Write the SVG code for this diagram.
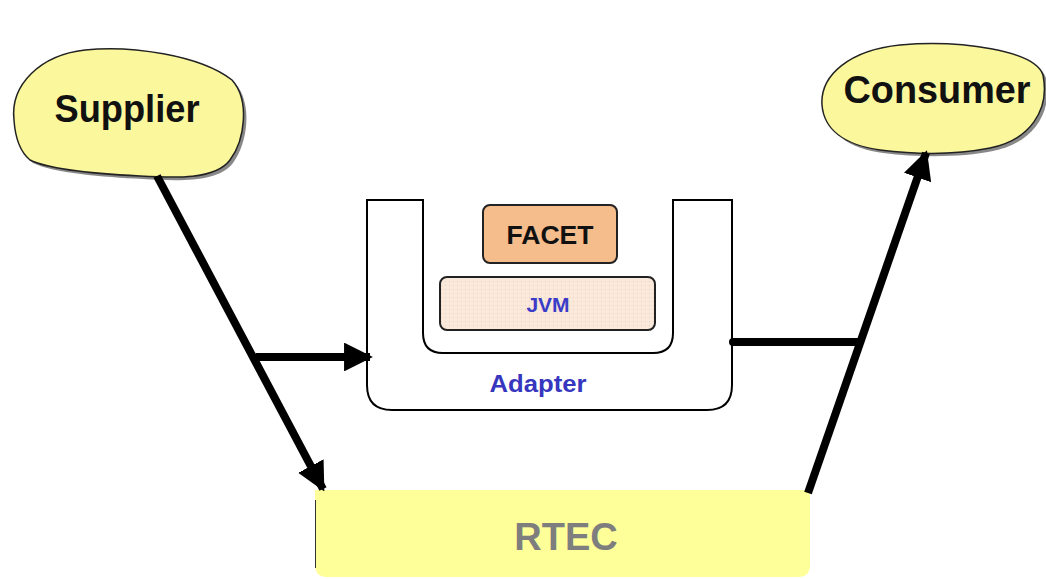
<svg xmlns="http://www.w3.org/2000/svg" width="1046" height="579" viewBox="0 0 1046 579">
<style>
.lbl{font-family:"Liberation Sans",Arial,sans-serif;font-weight:bold;text-anchor:middle}
.blob{fill:#FBF79C;stroke:#222;stroke-width:1.5}
.shadow{fill:#888;stroke:none}
.conn{stroke:#000;stroke-width:8;fill:none}
</style>
<defs>
<marker id="ah" viewBox="0 0 10 10" refX="9" refY="5" markerWidth="3.6" markerHeight="3.6" orient="auto" markerUnits="strokeWidth">
<path d="M0,0 L10,5 L0,10 Z" fill="#000"/>
</marker>
<pattern id="dots" width="4" height="4" patternUnits="userSpaceOnUse">
<rect width="4" height="4" fill="#FAE9DA"/>
<rect x="1" y="1" width="1" height="1" fill="#E8D2BE"/>
</pattern>
</defs>
<rect width="1046" height="579" fill="#fff"/>

<g id="supplier">
<path class="shadow" d="M17,123 C13,88 43,58 88,53 C133,48 203,58 235,83 C253,103 248,143 233,163 C218,183 178,181 143,179 C103,177 53,173 33,163 C21,153 18,138 17,123 Z"/>
<path class="blob" d="M14,120 C10,85 40,55 85,50 C130,45 200,55 232,80 C250,100 245,140 230,160 C215,180 175,178 140,176 C100,174 50,170 30,160 C18,150 15,135 14,120 Z"/>
<text class="lbl" x="127" y="122" font-size="38" textLength="145" lengthAdjust="spacingAndGlyphs" fill="#111">Supplier</text>
</g>

<g id="consumer">
<path class="shadow" d="M825,108 C823,78 853,53 903,48 C963,43 1038,53 1046,78 C1053,113 1033,143 993,151 C963,157 923,158 883,153 C848,148 827,133 825,108 Z"/>
<path class="blob" d="M822,105 C820,75 850,50 900,45 C960,40 1035,50 1043,75 C1050,110 1030,140 990,148 C960,154 920,155 880,150 C845,145 824,130 822,105 Z"/>
<text class="lbl" x="937" y="103" font-size="38" textLength="187" lengthAdjust="spacingAndGlyphs" fill="#111">Consumer</text>
</g>

<g id="adapter">
<path d="M367,200 L423,200 L423,333 Q423,353 443,353 L653,353 Q673,353 673,333 L673,200 L732,200 L732,385 Q732,410 707,410 L392,410 Q367,410 367,385 Z" fill="#fff" stroke="#000" stroke-width="2"/>
<text class="lbl" x="538" y="392" font-size="23" textLength="97" lengthAdjust="spacingAndGlyphs" fill="#3636BE">Adapter</text>
</g>

<g id="facet">
<rect x="483" y="205" width="134" height="58" rx="7" fill="#F5BC8C" stroke="#222" stroke-width="2"/>
<text class="lbl" x="550" y="244" font-size="25" textLength="87" lengthAdjust="spacingAndGlyphs" fill="#111">FACET</text>
</g>

<g id="jvm">
<rect x="440" y="277" width="215" height="53" rx="7" fill="url(#dots)" stroke="#222" stroke-width="2"/>
<text class="lbl" x="548" y="312" font-size="21" fill="#3B3BC8">JVM</text>
</g>

<g id="rtec">
<path d="M315,490 L810,490 L810,565 Q810,577 798,577 L327,577 Q315,577 315,565 Z" fill="#FFFF99"/>
<line x1="315.5" y1="500" x2="315.5" y2="568" stroke="#333" stroke-width="1"/>
<text class="lbl" x="566" y="550" font-size="38" fill="#7E7E7E">RTEC</text>
</g>

<g id="connectors">
<line class="conn" x1="157" y1="176" x2="323" y2="489" marker-end="url(#ah)"/>
<line class="conn" x1="256" y1="357" x2="370" y2="357" marker-end="url(#ah)"/>
<line class="conn" x1="808" y1="493" x2="926" y2="153" marker-end="url(#ah)"/>
<line class="conn" x1="732" y1="342" x2="862" y2="342"/>
<circle cx="733" cy="342" r="4" fill="#000"/>
</g>
</svg>
